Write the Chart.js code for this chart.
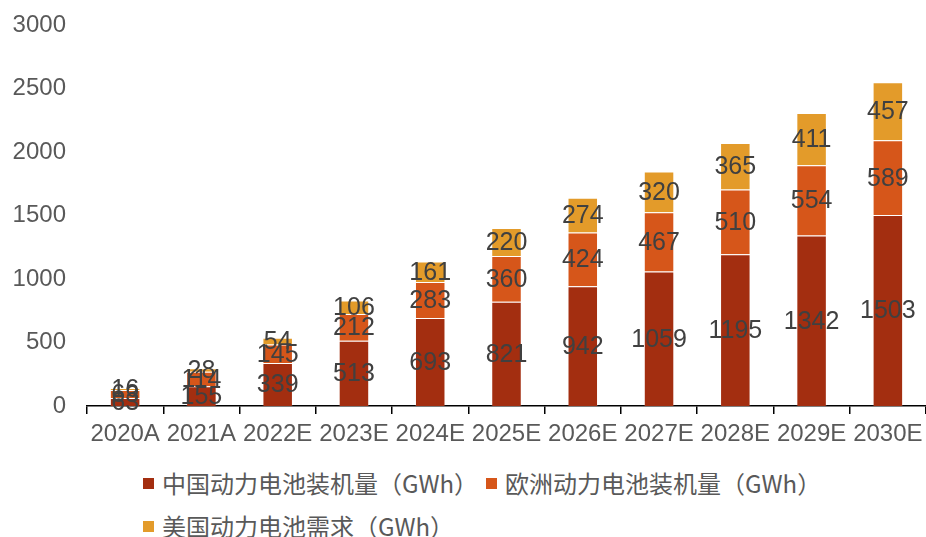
<!DOCTYPE html>
<html>
<head>
<meta charset="utf-8">
<script src="https://cdn.jsdelivr.net/npm/chart.js@4"></script>
<style>
  body { margin: 0; background: #fff; }
  #wrap { position: relative; width: 926px; height: 537px; overflow: hidden; }
  #chart { position: absolute; left: 0; top: 0; }
  .legend-row { position: absolute; left: 143px; display: flex; align-items: center; height: 24px; line-height: 24px;
    font-family: "Noto Sans CJK SC", "Liberation Sans", sans-serif; font-size: 24px; color: #595959; white-space: nowrap; }
  .legend-item { display: flex; align-items: center; margin-right: 8px; }
  .swatch { width: 11px; height: 11px; margin-right: 8px; }
</style>
</head>
<body>
<div id="wrap">
  <canvas id="chart" width="926" height="460"></canvas>
  <div class="legend-row" id="row1" style="top: 471px;"></div>
  <div class="legend-row" id="row2" style="top: 514px;"></div>
</div>
<script>
const YEARS = ["2020A", "2021A", "2022E", "2023E", "2024E", "2025E", "2026E", "2027E", "2028E", "2029E", "2030E"];
const CHINA = [63, 155, 339, 513, 693, 821, 942, 1059, 1195, 1342, 1503];
const EUROPE = [63, 114, 145, 212, 283, 360, 424, 467, 510, 554, 589];
const USA = [16, 28, 54, 106, 161, 220, 274, 320, 365, 411, 457];
const LABELS = ["中国动力电池装机量（GWh）", "欧洲动力电池装机量（GWh）", "美国动力电池需求（GWh）"];
const COLORS = ["#A32E10", "#D6561A", "#E39B2A"];
const Y_TICKS = [0, 500, 1000, 1500, 2000, 2500, 3000];

const $ctx = document.getElementById("chart");

const valueLabels = {
  id: "valueLabels",
  afterDatasetsDraw(chart) {
    const c = chart.ctx;
    c.save();
    c.font = "25px 'Liberation Sans', Arial, sans-serif";
    c.fillStyle = "#404040";
    c.textAlign = "center";
    c.textBaseline = "middle";
    chart.data.datasets.forEach((ds, i) => {
      chart.getDatasetMeta(i).data.forEach((bar, j) => {
        c.fillText(ds.data[j], bar.x, (bar.y + bar.base) / 2 + 1);
      });
    });
    c.restore();
  },
};

const data = {
  labels: YEARS,
  datasets: [CHINA, EUROPE, USA].map((values, i) => ({
    label: LABELS[i],
    data: values,
    backgroundColor: COLORS[i],
    borderColor: "rgba(255,255,255,0.15)",
    borderWidth: 1,
    barPercentage: 0.4,
    categoryPercentage: 1,
  })),
};

new Chart($ctx, {
  type: "bar",
  data,
  plugins: [valueLabels],
  options: {
    responsive: false,
    animation: false,
    layout: { padding: { top: 25, right: 0, left: 0, bottom: 0 } },
    plugins: { legend: { display: false }, tooltip: { enabled: false } },
    scales: {
      x: {
        stacked: true,
        afterFit: (s) => { s.height = 54; s.paddingLeft = 0; s.paddingRight = 0; },
        border: { display: true, color: "#000", width: 1.5 },
        grid: { display: true, drawOnChartArea: false, drawTicks: true, tickLength: 8, color: "#000", lineWidth: 1.5, offset: true },
        ticks: { color: "#595959", font: { size: 24, family: "'Liberation Sans', Arial, sans-serif" }, padding: 6, maxRotation: 0 },
      },
      y: {
        stacked: true,
        min: 0,
        max: 3000,
        afterFit: (s) => { s.width = 87; s.paddingTop = 0; s.paddingBottom = 0; },
        afterBuildTicks: (s) => { s.ticks = Y_TICKS.map((v) => ({ value: v })); },
        border: { display: false },
        grid: { display: false, drawTicks: false },
        ticks: {
          color: "#595959",
          font: { size: 24, family: "'Liberation Sans', Arial, sans-serif" },
          padding: 21,
          callback: (v) => String(v),
        },
      },
    },
  },
});

[[0, 1], [2]].forEach((idx, r) => {
  const row = document.getElementById("row" + (r + 1));
  idx.forEach((i) => {
    const item = document.createElement("div");
    item.className = "legend-item";
    item.innerHTML = `<span class="swatch" style="background:${COLORS[i]}"></span><span>${LABELS[i]}</span>`;
    row.appendChild(item);
  });
});
</script>
</body>
</html>
